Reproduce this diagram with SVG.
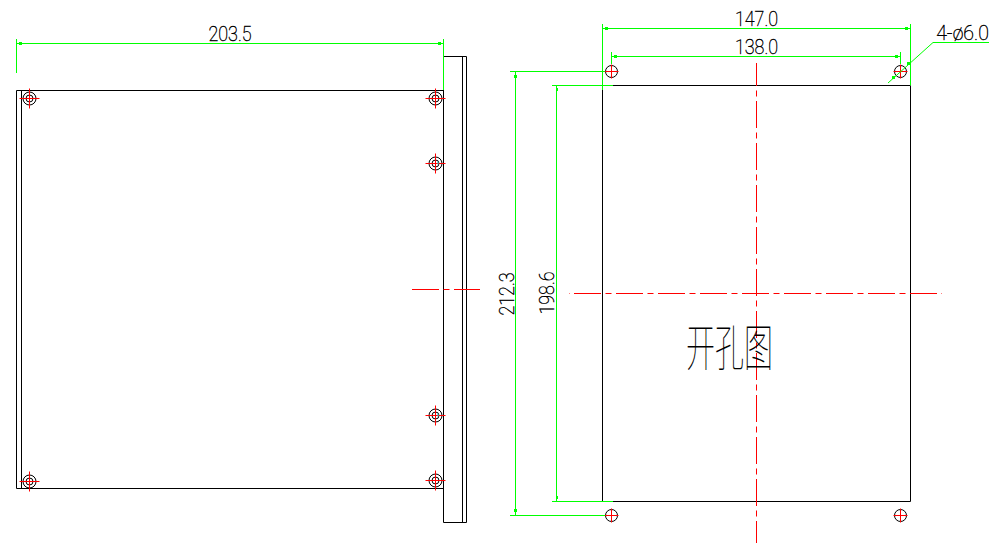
<svg xmlns="http://www.w3.org/2000/svg" width="1000" height="549" viewBox="0 0 1000 549">
<style>
.k{fill:none;stroke:#000;stroke-width:1}
.g{fill:none;stroke:#0f0;stroke-width:1}
.r{fill:none;stroke:#f00;stroke-width:1}
.d{stroke-dasharray:27 4.5 6 4.5}
.a{fill:#0f0;stroke:none}
.t{font-family:Roboto,"Liberation Sans",sans-serif;font-size:19.500px;font-weight:100;fill:#000;stroke:#000;stroke-width:.4;text-anchor:middle}
.c{font-family:"Noto Sans CJK SC","Noto Sans",sans-serif;font-size:50px;font-weight:100;fill:#000;text-anchor:middle}
</style>
<defs>
<g id="screw"><circle r="6.500" class="k"/><circle r="3.500" class="k"/><path class="r" d="M-10 0H10M0-10V10"/></g>
<g id="hole"><circle r="6" class="k"/><path class="r" d="M-7 0H7M0-7V7"/></g>
</defs>
<rect width="1000" height="549" fill="#fff"/>
<g id="side-view">
<path class="k" d="M16.500 90.500H443.500V488.500H16.500ZM21.500 90.500V488.500"/>
<path class="k" d="M443.500 56.500H466.500V522.500H443.500ZM462.500 56.500V522.500"/>
<path class="r d" d="M412 289.500H480"/>
</g>
<g id="screw-1"><use href="#screw" x="29.500" y="98.500"/></g>
<g id="screw-2"><use href="#screw" x="435.500" y="98.500"/></g>
<g id="screw-3"><use href="#screw" x="435.500" y="163.500"/><path d="M438 161.500v3" stroke="#0cc" fill="none"/></g>
<g id="screw-4"><use href="#screw" x="435.500" y="415.500"/><path d="M438 413.500v3" stroke="#0cc" fill="none"/></g>
<g id="screw-5"><use href="#screw" x="29.500" y="481.500"/></g>
<g id="screw-6"><use href="#screw" x="435.500" y="480.500"/></g>
<g id="cutout">
<path class="k" d="M602.500 85.500H910.500V501.500H602.500Z"/>
<path class="r d" stroke-dashoffset="37" d="M569 293.500H942"/>
<path class="r d" stroke-dashoffset="4" d="M756.500 63V543"/>
<text class="c" transform="translate(729.500 366) scale(.58 1)">开孔图</text>
</g>
<g id="hole-1"><use href="#hole" x="611.500" y="71.500"/></g>
<g id="hole-2"><use href="#hole" x="900.500" y="71.500"/></g>
<g id="hole-3"><use href="#hole" x="611.500" y="515.500"/></g>
<g id="hole-4"><use href="#hole" x="900.500" y="515.500"/></g>
<g id="connectors">
<path class="g" d="M16.500 43.500H443.500M16.500 39V73M443.500 39V90"/>
<path class="g" d="M602.500 24V90M910.500 24V85.500M602.500 28.500H910.500"/>
<path class="g" d="M611.500 52V64M900.500 52V64M611.500 56.500H900.500"/>
<path class="g" d="M510 71.500H605M552 85.500H613M552 501.500H613M510 515.500H605"/>
<path class="g" d="M515.500 71.500V515.500M556.500 85.500V501.500"/>
<path class="g" d="M888 83L933 42.500H989"/>
<path class="a" d="M19 42h3v3h-3zM438 42h3v3h-3zM605 27h3v3h-3zM905 27h3v3h-3zM614 55h3v3h-3zM895 55h3v3h-3zM514 75h3v3h-3zM514 509h3v3h-3zM556 88h2v3h-2zM556 496h2v3h-2zM907 62h3v3h-3zM892 76h3v3h-3z"/>
</g>
<g id="labels">
<text class="t" transform="translate(230 41) scale(.92 1)">203.5</text>
<text class="t" transform="translate(756.500 26) scale(.92 1)">147.0</text>
<text class="t" transform="translate(756.500 54) scale(.92 1)">138.0</text>
<text class="t" transform="translate(962.500 40)">4-ø6.0</text>
<text class="t" transform="translate(514 294) rotate(-90) scale(.92 1)">212.3</text>
<text class="t" transform="translate(554 293) rotate(-90) scale(.92 1)">198.6</text>
</g>
</svg>
